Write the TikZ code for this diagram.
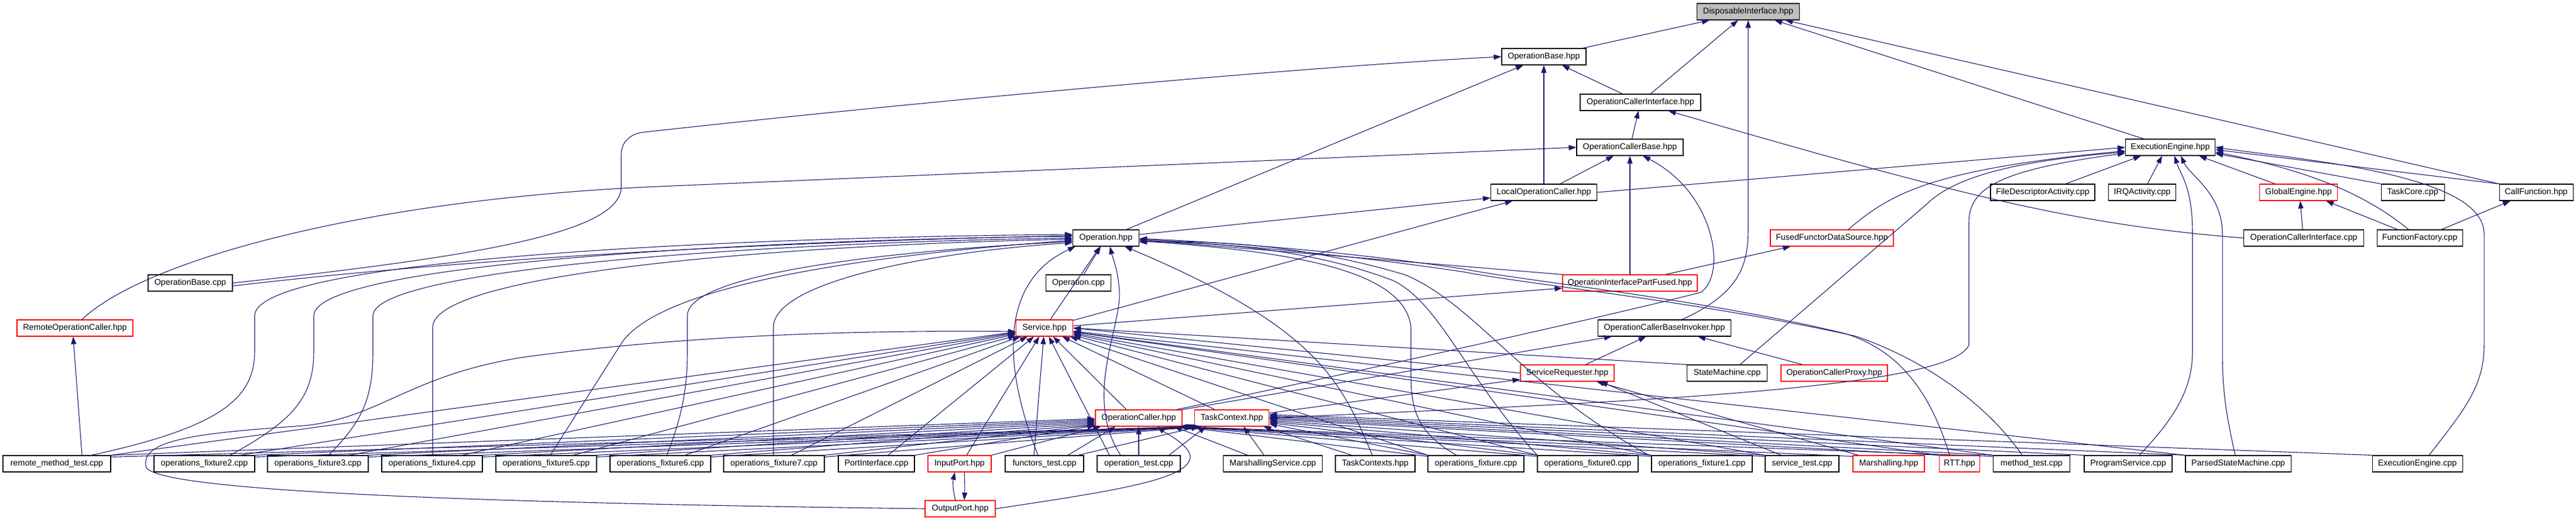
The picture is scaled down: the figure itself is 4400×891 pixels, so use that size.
\documentclass[tikz,border=0pt]{standalone}
\usepackage{fontspec}
\setmainfont{Liberation Sans}
\usetikzlibrary{arrows.meta,calc}
\definecolor{edgec}{RGB}{25,25,112}
\definecolor{rootfill}{RGB}{191,191,191}
\newcommand\nd[6]{\node[#5,minimum width=#4pt] (#1) at (#2,#3) {#6};}
\begin{document}
\begin{tikzpicture}[x=1pt,y=-1pt,
  box/.style={draw=black,line width=1.1pt,minimum height=28pt,inner sep=0pt,fill=white,font=\fontsize{14.3}{17}\selectfont},
  rbox/.style={box,draw=red},
  edge/.style={draw=edgec,line width=1.1pt,-{Triangle[length=13pt,width=9pt]}}]
\fill[white] (0,0) rectangle (4400,891);
\useasboundingbox (0,0) rectangle (4400,891);
% nodes
\nd{dis}{2986}{20}{175}{box,fill=rootfill}{DisposableInterface.hpp}
\nd{obh}{2637}{97}{144}{box}{OperationBase.hpp}
\nd{ocih}{2802}{175}{206}{box}{OperationCallerInterface.hpp}
\nd{ocb}{2784}{252}{182}{box}{OperationCallerBase.hpp}
\nd{eeh}{3707}{252}{153}{box}{ExecutionEngine.hpp}
\nd{loc}{2637}{329}{181}{box}{LocalOperationCaller.hpp}
\nd{fda}{3489}{329}{178}{box}{FileDescriptorActivity.cpp}
\nd{irq}{3659}{329}{115}{box}{IRQActivity.cpp}
\nd{ge}{3926}{329}{133}{rbox}{GlobalEngine.hpp}
\nd{tc}{4121}{329}{108}{box}{TaskCore.cpp}
\nd{cf}{4332}{329}{126}{box}{CallFunction.hpp}
\nd{opH}{1889}{407}{113}{box}{Operation.hpp}
\nd{ffds}{3129}{407}{210}{rbox}{FusedFunctorDataSource.hpp}
\nd{ocicpp}{3935}{407}{205}{box}{OperationCallerInterface.cpp}
\nd{ff}{4133}{407}{146}{box}{FunctionFactory.cpp}
\nd{obcpp}{325}{484}{144}{box}{OperationBase.cpp}
\nd{opcpp}{1842}{484}{111}{box}{Operation.cpp}
\nd{oipf}{2784}{484}{230}{rbox}{OperationInterfacePartFused.hpp}
\nd{roc}{128}{561}{198}{rbox}{RemoteOperationCaller.hpp}
\nd{svc}{1784}{561}{97}{rbox}{Service.hpp}
\nd{ocbi}{2843}{561}{227}{box}{OperationCallerBaseInvoker.hpp}
\nd{sr}{2677}{638}{160}{rbox}{ServiceRequester.hpp}
\nd{smc}{2950}{638}{137}{box}{StateMachine.cpp}
\nd{ocp}{3133}{638}{182}{rbox}{OperationCallerProxy.hpp}
\nd{oc}{1945}{715}{148}{rbox}{OperationCaller.hpp}
\nd{tch}{2104}{715}{127}{rbox}{TaskContext.hpp}
\nd{rmt}{97}{793}{184}{box}{remote\_method\_test.cpp}
\nd{of2}{349}{793}{172}{box}{operations\_fixture2.cpp}
\nd{of3}{543}{793}{172}{box}{operations\_fixture3.cpp}
\nd{of4}{738}{793}{172}{box}{operations\_fixture4.cpp}
\nd{of5}{933}{793}{172}{box}{operations\_fixture5.cpp}
\nd{of6}{1128}{793}{172}{box}{operations\_fixture6.cpp}
\nd{of7}{1322}{793}{172}{box}{operations\_fixture7.cpp}
\nd{pi}{1497}{793}{130}{box}{PortInterface.cpp}
\nd{ip}{1639}{793}{108}{rbox}{InputPort.hpp}
\nd{ft}{1784}{793}{134}{box}{functors\_test.cpp}
\nd{ot}{1945}{793}{142}{box}{operation\_test.cpp}
\nd{ms}{2174}{793}{169}{box}{MarshallingService.cpp}
\nd{tcs}{2349}{793}{136}{box}{TaskContexts.hpp}
\nd{of}{2521}{793}{164}{box}{operations\_fixture.cpp}
\nd{of0}{2712}{793}{172}{box}{operations\_fixture0.cpp}
\nd{of1}{2907}{793}{172}{box}{operations\_fixture1.cpp}
\nd{st}{3078}{793}{126}{box}{service\_test.cpp}
\nd{mar}{3226}{793}{122}{rbox}{Marshalling.hpp}
\nd{rtt}{3347}{793}{69}{rbox}{RTT.hpp}
\nd{mt}{3470}{793}{131}{box}{method\_test.cpp}
\nd{ps}{3635}{793}{150}{box}{ProgramService.cpp}
\nd{psm}{3823}{793}{180}{box}{ParsedStateMachine.cpp}
\nd{eec}{4129}{793}{154}{box}{ExecutionEngine.cpp}
\nd{op}{1640}{870}{120}{rbox}{OutputPort.hpp}
% ---- top edges
\draw[edge] (obh) -- (dis);
\draw[edge] (ocih) -- (dis);
\draw[edge] ($(ocbi.north)+(30,0)$) .. controls (2975,500) and (2986,450) .. (2986,390) -- (dis.south);
\draw[edge] (eeh) -- (dis);
\draw[edge] (cf) -- (dis);
\draw[edge] (ocih) -- (obh);
\draw[edge] (opH) -- (obh);
\draw[edge] (loc.north) -- (obh.south);
\draw[edge] (obcpp.east) .. controls (800,440) and (1061,400) .. (1061,320) -- (1061,265) .. controls (1061,240) and (1080,228) .. (1100,226) .. controls (1700,160) and (2300,110) .. (obh.west);
\draw[edge] (ocb) -- (ocih);
\draw[edge] (ocicpp.west) .. controls (3550,385) and (3350,335) .. ($(ocih.south east)+(-56,0)$);
\draw[edge] ($(roc.north)+(12,0)$) .. controls (240,450) and (600,345) .. (1100,320) -- (ocb.west);
\draw[edge] (loc) -- (ocb);
\draw[edge] (oipf.north) -- (ocb.south);
\draw[edge] ($(oc.north east)+(-10,0)$) .. controls (2300,640) and (2750,540) .. (2905,500) .. controls (2950,470) and (2930,330) .. ($(ocb.south)+(22,0)$);
\draw[edge] (loc.east) -- (eeh.west);
\draw[edge] ($(ffds.north)+(28,0)$) .. controls (3230,330) and (3300,290) .. ($(eeh.west)+(0,6)$);
\draw[edge] ($(smc.north)+(22,0)$) -- (3290,350) .. controls (3340,300) and (3450,275) .. ($(eeh.west)+(0,8)$);
\draw[edge] (tch.east) .. controls (2700,690) and (3330,670) .. (3363,590) -- (3363,380) .. controls (3363,320) and (3420,290) .. ($(eeh.west)+(0,10)$);
\draw[edge] ($(fda.north)+(39,0)$) -- ($(eeh.south)+(-50,0)$);
\draw[edge] ($(irq.north)+(9,0)$) -- ($(eeh.south)+(-14,0)$);
\draw[edge] ($(ge.north)+(-40,0)$) -- ($(eeh.south)+(49,0)$);
\draw[edge] (tc.north west) -- ($(eeh.south east)+(0,-4)$);
\draw[edge] ($(ff.north)+(-19,0)$) .. controls (4050,340) and (3960,295) .. ($(eeh.east)+(0,8)$);
\draw[edge] (cf.north west) -- ($(eeh.east)+(0,4)$);
\draw[edge] ($(ps.north)+(19,0)$) .. controls (3720,710) and (3745,660) .. (3745,600) -- (3745,400) .. controls (3745,320) and (3725,300) .. ($(eeh.south)+(7,0)$);
\draw[edge] ($(psm.north)+(-5,0)$) .. controls (3800,700) and (3796,660) .. (3796,600) -- (3796,400) .. controls (3796,330) and (3740,300) .. ($(eeh.south)+(18,0)$);
\draw[edge] ($(eec.north)+(20,0)$) .. controls (4210,700) and (4243,660) .. (4243,590) -- (4243,400) .. controls (4243,300) and (3950,275) .. (eeh.east);
\draw[edge] ($(ocicpp.north)+(-2,0)$) -- ($(ge.south)+(3,0)$);
\draw[edge] ($(ff.north)+(-38,0)$) -- ($(ge.south east)+(-20,0)$);
\draw[edge] ($(ff.north)+(37,0)$) -- ($(cf.south)+(-44,0)$);
% ---- middle edges
\draw[edge] (opH) -- (loc);
\draw[edge] (svc) -- (loc);
\draw[edge] ($(oipf.north east)+(-55,0)$) -- ($(ffds.south west)+(35,0)$);
\draw[edge] (oipf.north west) -- ($(opH.east)+(0,3)$);
\draw[edge] (svc) -- (oipf);
\draw[edge] (svc) -- (opH);
\draw[edge] (opcpp) -- (opH);
\draw[edge] ($(obcpp.east)+(0,5)$) .. controls (900,430) and (1500,410) .. ($(opH.west)+(0,-4)$);
\draw[edge] ($(rmt.north)+(43,0)$) -- ($(roc.south)+(-3,0)$);
\draw[edge] (sr) -- (ocbi);
\draw[edge] (oc.north east) -- ($(ocbi.south west)+(24,0)$);
\draw[edge] (ocp) -- ($(ocbi.south east)+(-57,0)$);
\draw[edge] (tch) -- (sr);
\draw[edge] (st) -- ($(sr.south)+(56,0)$);
\draw[edge] (mar) -- ($(sr.south)+(50,0)$);
\draw[edge] (sr.west) -- (svc.east);
\draw[edge] (smc.north west) -- (svc.east);
% ---- curves into Operation.hpp from the left
\draw[edge] ($(rmt.north)+(59,0)$) .. controls (380,730) and (435,680) .. (435,600) -- (435,540) .. controls (435,440) and (1300,405) .. ($(opH.west)+(0,-6)$);
\draw[edge] ($(of2.north)+(44,0)$) .. controls (500,720) and (536,680) .. (536,600) -- (536,540) .. controls (536,450) and (1300,410) .. ($(opH.west)+(0,-3)$);
\draw[edge] ($(of3.north)+(18,0)$) .. controls (620,720) and (637,680) .. (637,600) -- (637,540) .. controls (637,460) and (1300,415) .. (opH.west);
\draw[edge] ($(of4.north)+(1,0)$) -- (739,560) .. controls (739,470) and (1300,420) .. ($(opH.west)+(0,2)$);
\draw[edge] ($(of5.north)+(7,0)$) -- (1059,591) .. controls (1100,520) and (1300,450) .. ($(opH.west)+(0,4)$);
\draw[edge] ($(of6.north)+(11,0)$) .. controls (1170,700) and (1174,650) .. (1174,600) -- (1174,540) .. controls (1174,470) and (1500,430) .. ($(opH.west)+(0,6)$);
\draw[edge] ($(of7.north)+(-1,0)$) -- (1321,560) .. controls (1321,480) and (1600,430) .. ($(opH.west)+(0,8)$);
\draw[edge] ($(ft.north)+(-11,0)$) .. controls (1710,620) and (1710,480) .. ($(opH.south west)+(5,0)$);
\draw[edge] ($(ot.north)+(-31,0)$) .. controls (1850,680) and (1915,560) .. (1912,500) .. controls (1910,460) and (1900,440) .. ($(opH.south)+(7,0)$);
\draw[edge] ($(tcs.north)+(-5,0)$) .. controls (2290,650) and (2250,560) .. ($(opH.south east)+(-25,0)$);
% ---- curves into Operation.hpp from the right
\draw[edge] ($(of.north)+(-33,0)$) .. controls (2420,740) and (2410,700) .. (2410,640) -- (2410,560) .. controls (2400,460) and (2200,430) .. ($(opH.east)+(0,5)$);
\draw[edge] (of0.north west) .. controls (2500,640) and (2460,520) .. (2380,480) .. controls (2250,430) and (2100,415) .. ($(opH.east)+(0,6)$);
\draw[edge] ($(of1.north west)+(-4,0)$) .. controls (2600,660) and (2520,520) .. (2400,470) .. controls (2250,425) and (2100,410) .. ($(opH.east)+(0,7)$);
\draw[edge] ($(rtt.north)+(-17,0)$) .. controls (3300,680) and (3250,600) .. (3150,570) .. controls (2900,510) and (2600,480) .. (2500,460) .. controls (2300,430) and (2100,415) .. ($(opH.east)+(0,1)$);
\draw[edge] ($(mt.north)+(-16,0)$) .. controls (3400,700) and (3300,620) .. (3170,575) .. controls (2900,515) and (2600,485) .. (2500,465) .. controls (2300,435) and (2100,418) .. ($(opH.east)+(0,2)$);
% ---- into Service.hpp
\foreach \s/\dx in {of2/61,of3/53,of4/51,of5/46,of6/42,of7/30,pi/20,ip/12,ft/-18}
  \draw[edge] ($(\s.north)+(\dx,0)$) -- (svc);
\draw[edge] (rmt.north east) -- (svc);
\draw[edge] ($(ot.north)+(-50,0)$) -- (svc);
\draw[edge] ($(oc.north)+(-21,0)$) -- (svc);
\draw[edge] ($(tch.north)+(-29,0)$) -- (svc);
\foreach \s in {of,of0,of1,st,mt,psm,rtt}
  \draw[edge] (\s.north west) -- (svc);
\draw[edge] (op.west) .. controls (800,860) and (280,840) .. (250,800) .. controls (235,750) and (350,740) .. (519,728) .. controls (650,715) and (700,640) .. (900,610) .. controls (1200,570) and (1500,565) .. ($(svc.west)+(0,6)$);
% ---- into OperationCaller.hpp
\foreach \s/\d in {rmt/1,of2/3,of3/5,of4/7,of5/9,of6/11,of7/12,pi/13}
  \draw[edge] (\s.north east) -- ($(oc.west)+(0,\d)$);
\draw[edge] (ip.north east) -- ($(oc.south west)+(10,0)$);
\draw[edge] ($(ft.north)+(40,0)$) -- ($(oc.south west)+(35,0)$);
\draw[edge] (ot.north) -- (oc.south);
\draw[edge] (op.east) .. controls (1900,840) and (2035,820) .. (2033,780) .. controls (2030,760) and (1990,740) .. ($(oc.south)+(32,0)$);
\draw[edge] ($(ms.north)+(-43,0)$) -- ($(oc.south east)+(-14,0)$);
\foreach \s in {of,of0,of1,st,mar,mt}
  \draw[edge] ($(\s.north west)+(0,2)$) -- ($(oc.south east)+(-5,0)$);
% ---- into TaskContext.hpp
\foreach \s/\d in {rmt/0,of2/2,of3/4,of4/6,of5/8,of6/10,of7/12}
  \draw[edge] ($(\s.north east)+(0,3)$) -- ($(tch.south west)+(\d,0)$);
\draw[edge] ($(ft.north east)+(-10,0)$) -- ($(tch.south west)+(8,0)$);
\draw[edge] ($(ot.north east)+(-20,0)$) -- ($(tch.south west)+(20,0)$);
\draw[edge] ($(ms.north)+(-15,0)$) -- ($(tch.south)+(20,0)$);
\draw[edge] ($(tcs.north)+(-40,0)$) -- ($(tch.south east)+(-10,0)$);
\foreach \s/\d in {of/10,of0/8,of1/6,st/4,rtt/2,mt/0,ps/-2,psm/-4,eec/-6}
  \draw[edge] (\s.north west) -- ($(tch.east)+(0,\d)$);
\draw[edge] ($(op.north)+(-8,0)$) .. controls (1628,840) and (1627,825) .. ($(ip.south)+(-8,0)$);
\draw[edge] ($(ip.south)+(8,0)$) .. controls (1648,825) and (1648,840) .. ($(op.north)+(7,0)$);
\end{tikzpicture}
\end{document}
